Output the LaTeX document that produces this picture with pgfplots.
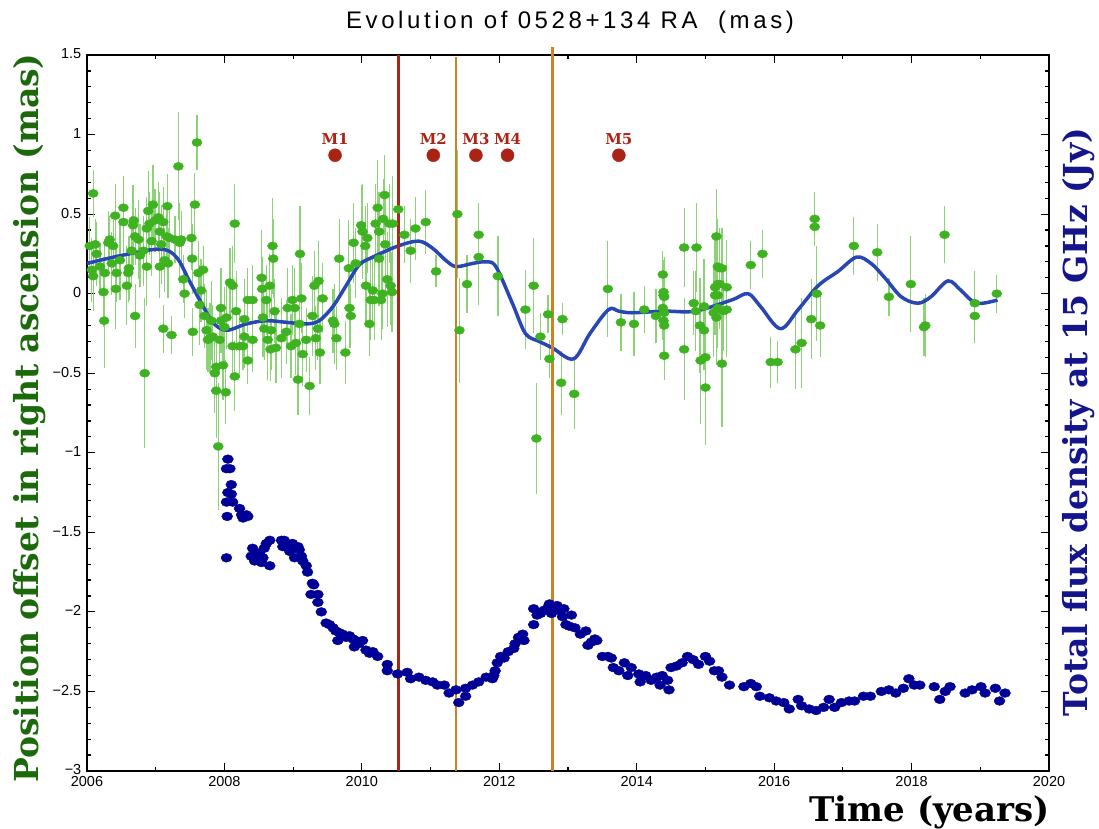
\documentclass[border=0pt]{standalone}
\usepackage{fontspec}
\usepackage{pgfplots}
\usepackage{pgfplotstable}
\pgfplotsset{compat=1.18}
\setmainfont{DejaVu Serif}
\newfontfamily\ticksf{Liberation Sans}
\newfontfamily\titlesf[LetterSpace=15]{Liberation Sans}

\definecolor{ptgreen}{RGB}{62,178,32}
\definecolor{errgreen}{RGB}{140,210,118}
\definecolor{labgreen}{RGB}{28,105,12}
\definecolor{fluxblue}{RGB}{0,0,150}
\definecolor{curveblue}{RGB}{40,70,180}
\definecolor{labnavy}{RGB}{20,20,140}
\definecolor{mred}{RGB}{170,35,20}
\definecolor{vred}{RGB}{165,40,25}
\definecolor{vorange}{RGB}{205,130,35}

\pgfplotstableread{
x y e
2006.04 0.30 0.18
2006.07 0.15 0.20
2006.09 0.63 0.15
2006.09 0.11 0.22
2006.12 0.31 0.16
2006.14 0.25 0.20
2006.19 0.17 0.15
2006.24 0.01 0.22
2006.25 -0.17 0.30
2006.26 0.13 0.18
2006.31 0.32 0.20
2006.33 0.34 0.15
2006.36 0.19 0.20
2006.38 0.30 0.16
2006.41 0.49 0.20
2006.42 0.03 0.25
2006.43 0.13 0.18
2006.48 0.21 0.25
2006.53 0.54 0.20
2006.53 0.45 0.22
2006.58 0.05 0.25
2006.60 0.13 0.18
2006.61 0.16 0.20
2006.65 0.27 0.22
2006.67 0.43 0.25
2006.68 0.46 0.20
2006.70 -0.14 0.20
2006.70 0.36 0.18
2006.75 0.34 0.25
2006.77 0.24 0.20
2006.82 0.27 0.22
2006.84 -0.50 0.47
2006.87 0.17 0.25
2006.87 0.41 0.20
2006.89 0.52 0.25
2006.91 0.44 0.20
2006.94 0.33 0.22
2006.96 0.56 0.25
2006.99 0.46 0.20
2007.04 0.48 0.22
2007.06 0.39 0.25
2007.06 0.17 0.20
2007.08 0.31 0.25
2007.11 0.45 0.22
2007.11 -0.22 0.15
2007.13 0.21 0.20
2007.16 0.36 0.18
2007.17 0.55 0.20
2007.18 0.19 0.22
2007.20 0.35 0.18
2007.23 -0.26 0.12
2007.28 0.34 0.15
2007.33 0.80 0.34
2007.35 0.32 0.25
2007.37 0.34 0.18
2007.40 0.09 0.15
2007.42 0.00 0.15
2007.52 0.35 0.20
2007.53 0.22 0.22
2007.54 -0.24 0.15
2007.57 0.56 0.20
2007.60 0.95 0.17
2007.62 0.13 0.20
2007.64 -0.07 0.25
2007.66 0.02 0.20
2007.69 0.15 0.15
2007.71 -0.14 0.20
2007.74 -0.23 0.25
2007.76 -0.29 0.20
2007.79 -0.28 0.22
2007.81 -0.17 0.25
2007.83 -0.27 0.20
2007.86 -0.50 0.25
2007.88 -0.61 0.30
2007.88 -0.46 0.20
2007.91 -0.96 0.40
2007.93 -0.29 0.20
2007.95 -0.09 0.25
2007.95 -0.17 0.20
2007.98 -0.45 0.22
2008.00 -0.21 0.25
2008.02 -0.62 0.20
2008.03 -0.15 0.20
2008.08 0.07 0.22
2008.12 0.05 0.25
2008.12 -0.33 0.20
2008.15 0.44 0.25
2008.15 -0.52 0.22
2008.17 -0.11 0.25
2008.22 -0.33 0.20
2008.27 -0.33 0.15
2008.29 -0.16 0.25
2008.29 -0.27 0.20
2008.34 -0.04 0.20
2008.34 -0.42 0.15
2008.41 -0.29 0.20
2008.41 -0.04 0.22
2008.54 0.10 0.30
2008.55 0.03 0.20
2008.56 -0.15 0.25
2008.58 -0.22 0.20
2008.61 -0.04 0.22
2008.63 -0.29 0.25
2008.66 0.05 0.20
2008.67 -0.35 0.20
2008.68 -0.23 0.25
2008.70 0.30 0.30
2008.71 0.22 0.25
2008.73 -0.11 0.20
2008.75 -0.34 0.22
2008.83 -0.28 0.25
2008.90 -0.24 0.20
2008.92 -0.09 0.25
2008.97 -0.33 0.20
2008.99 -0.04 0.22
2009.02 -0.09 0.25
2009.04 -0.31 0.20
2009.07 -0.54 0.22
2009.09 -0.19 0.20
2009.10 0.25 0.30
2009.12 -0.03 0.22
2009.14 -0.38 0.20
2009.19 -0.29 0.20
2009.24 -0.58 0.18
2009.28 -0.14 0.25
2009.31 0.05 0.22
2009.33 -0.28 0.20
2009.36 -0.22 0.20
2009.37 0.08 0.25
2009.39 -0.37 0.20
2009.43 -0.03 0.22
2009.58 -0.17 0.20
2009.60 -0.19 0.25
2009.63 -0.28 0.20
2009.67 0.22 0.25
2009.76 -0.37 0.20
2009.81 0.16 0.30
2009.82 -0.09 0.25
2009.84 -0.14 0.20
2009.88 0.32 0.25
2009.91 0.19 0.22
2009.99 0.43 0.25
2010.01 0.39 0.30
2010.05 0.30 0.25
2010.06 0.05 0.25
2010.08 0.35 0.22
2010.11 -0.19 0.20
2010.13 -0.04 0.25
2010.16 0.02 0.22
2010.18 -0.04 0.25
2010.20 0.44 0.25
2010.23 0.54 0.30
2010.25 0.39 0.25
2010.25 0.22 0.30
2010.28 -0.04 0.25
2010.30 0.00 0.22
2010.31 0.47 0.25
2010.33 0.62 0.25
2010.34 0.31 0.30
2010.37 0.09 0.30
2010.40 0.44 0.25
2010.42 0.05 0.25
2010.44 0.01 0.25
2010.45 0.44 0.30
2010.53 0.53 0.20
2010.62 0.37 0.18
2010.71 0.27 0.20
2010.78 0.41 0.20
2010.93 0.45 0.20
2011.08 0.14 0.10
2011.39 0.50 0.40
2011.42 -0.23 0.33
2011.53 0.06 0.18
2011.70 0.37 0.20
2011.70 0.23 0.30
2011.98 0.11 0.25
2012.38 -0.10 0.25
2012.50 0.05 0.30
2012.54 -0.91 0.35
2012.60 -0.27 0.15
2012.71 -0.13 0.12
2012.73 -0.41 0.12
2012.90 -0.56 0.20
2012.92 -0.16 0.10
2013.09 -0.63 0.22
2013.58 0.03 0.30
2013.77 -0.18 0.18
2013.96 -0.19 0.20
2014.11 -0.10 0.15
2014.28 -0.14 0.17
2014.38 0.12 0.15
2014.39 0.01 0.20
2014.39 -0.01 0.15
2014.40 -0.02 0.25
2014.38 -0.09 0.20
2014.40 -0.12 0.15
2014.39 -0.17 0.20
2014.40 -0.20 0.25
2014.40 -0.39 0.15
2014.69 0.29 0.25
2014.69 -0.35 0.32
2014.83 -0.06 0.20
2014.87 0.29 0.28
2014.86 -0.11 0.25
2014.92 -0.20 0.30
2014.98 -0.23 0.25
2014.93 -0.42 0.40
2015.00 -0.40 0.30
2015.00 -0.59 0.36
2014.98 -0.08 0.30
2015.16 0.36 0.30
2015.14 0.04 0.30
2015.18 0.17 0.30
2015.21 0.16 0.25
2015.24 0.16 0.25
2015.18 0.06 0.25
2015.21 0.06 0.28
2015.31 0.04 0.30
2015.14 -0.01 0.25
2015.18 -0.01 0.30
2015.12 -0.12 0.28
2015.16 -0.15 0.30
2015.18 -0.09 0.25
2015.26 -0.11 0.25
2015.31 -0.10 0.30
2015.24 -0.44 0.40
2015.66 0.18 0.15
2015.83 0.25 0.15
2015.95 -0.43 0.16
2016.05 -0.43 0.13
2016.31 -0.35 0.25
2016.40 -0.31 0.28
2016.54 -0.16 0.25
2016.59 0.47 0.17
2016.59 0.42 0.12
2016.62 0.00 0.30
2016.67 -0.20 0.20
2017.16 0.30 0.18
2017.50 0.26 0.18
2017.67 -0.02 0.12
2017.99 0.06 0.30
2018.18 -0.21 0.18
2018.20 -0.20 0.20
2018.48 0.37 0.18
2018.92 -0.06 0.20
2018.92 -0.14 0.17
2019.24 0.00 0.12
}\posdata

\pgfplotstableread{
x y
2008.05 -1.04
2008.03 -1.10
2008.08 -1.10
2008.10 -1.20
2008.05 -1.25
2008.10 -1.26
2008.03 -1.31
2008.12 -1.31
2008.04 -1.40
2008.22 -1.35
2008.25 -1.39
2008.32 -1.39
2008.27 -1.41
2008.34 -1.40
2008.03 -1.66
2008.39 -1.65
2008.41 -1.60
2008.46 -1.64
2008.44 -1.68
2008.51 -1.63
2008.56 -1.66
2008.58 -1.60
2008.61 -1.57
2008.66 -1.55
2008.66 -1.71
2008.54 -1.69
2008.83 -1.55
2008.85 -1.59
2008.87 -1.55
2008.92 -1.58
2008.95 -1.62
2008.99 -1.57
2009.02 -1.66
2009.07 -1.59
2009.09 -1.61
2009.12 -1.65
2009.14 -1.68
2009.19 -1.71
2009.21 -1.75
2009.28 -1.82
2009.30 -1.83
2009.26 -1.89
2009.36 -1.89
2009.36 -1.94
2009.41 -2.00
2009.48 -2.07
2009.53 -2.08
2009.58 -2.10
2009.62 -2.12
2009.67 -2.13
2009.65 -2.18
2009.72 -2.14
2009.77 -2.16
2009.82 -2.15
2009.87 -2.17
2009.89 -2.22
2009.91 -2.18
2009.96 -2.20
2010.01 -2.18
2010.06 -2.24
2010.11 -2.26
2010.16 -2.25
2010.23 -2.28
2010.37 -2.33
2010.37 -2.37
2010.52 -2.39
2010.66 -2.38
2010.71 -2.42
2010.83 -2.41
2010.93 -2.43
2011.03 -2.44
2011.10 -2.46
2011.20 -2.46
2011.27 -2.51
2011.37 -2.49
2011.41 -2.57
2011.51 -2.53
2011.51 -2.48
2011.61 -2.46
2011.70 -2.44
2011.81 -2.41
2011.90 -2.42
2011.92 -2.40
2011.94 -2.37
2011.97 -2.32
2012.02 -2.28
2012.07 -2.29
2012.13 -2.25
2012.21 -2.23
2012.23 -2.20
2012.28 -2.16
2012.36 -2.18
2012.34 -2.14
2012.50 -1.98
2012.50 -2.08
2012.55 -2.02
2012.60 -2.01
2012.65 -1.99
2012.71 -1.97
2012.73 -1.95
2012.76 -2.01
2012.84 -1.96
2012.86 -1.99
2012.92 -2.03
2012.94 -1.98
2012.97 -2.08
2013.02 -2.09
2013.05 -2.02
2013.10 -2.10
2013.18 -2.14
2013.26 -2.12
2013.29 -2.21
2013.34 -2.19
2013.39 -2.17
2013.42 -2.18
2013.50 -2.28
2013.58 -2.28
2013.63 -2.29
2013.66 -2.35
2013.74 -2.37
2013.82 -2.32
2013.87 -2.40
2013.92 -2.35
2014.03 -2.39
2014.05 -2.44
2014.13 -2.40
2014.21 -2.43
2014.29 -2.41
2014.34 -2.46
2014.37 -2.40
2014.45 -2.43
2014.47 -2.49
2014.50 -2.35
2014.58 -2.34
2014.66 -2.32
2014.74 -2.28
2014.82 -2.30
2014.90 -2.33
2015.00 -2.28
2015.06 -2.31
2015.13 -2.37
2015.19 -2.37
2015.24 -2.41
2015.35 -2.46
2015.56 -2.47
2015.66 -2.45
2015.74 -2.47
2015.79 -2.53
2015.93 -2.54
2016.03 -2.56
2016.14 -2.57
2016.22 -2.61
2016.35 -2.55
2016.40 -2.59
2016.51 -2.61
2016.61 -2.62
2016.72 -2.60
2016.80 -2.55
2016.88 -2.60
2016.98 -2.57
2017.09 -2.56
2017.17 -2.56
2017.30 -2.53
2017.40 -2.53
2017.56 -2.50
2017.67 -2.49
2017.77 -2.51
2017.88 -2.48
2017.96 -2.42
2018.04 -2.46
2018.12 -2.46
2018.33 -2.47
2018.41 -2.55
2018.49 -2.50
2018.56 -2.47
2018.78 -2.51
2018.88 -2.49
2019.01 -2.47
2019.07 -2.51
2019.22 -2.48
2019.28 -2.56
2019.36 -2.51
}\fluxdata

\pgfplotstableread{
x y label
2009.61 0.87 M1
2011.04 0.87 M2
2011.66 0.87 M3
2012.12 0.87 M4
2013.74 0.87 M5
}\mdata

\begin{document}
\begin{tikzpicture}
\begin{axis}[
  at={(0pt,0pt)}, anchor=south west,
  scale only axis, width=962pt, height=716pt,
  xmin=2006, xmax=2020, ymin=-3, ymax=1.5,
  clip=false,
  xtick={2006,2008,2010,2012,2014,2016,2018,2020},
  xticklabels={2006,2008,2010,2012,2014,2016,2018,2020},
  minor xtick={2007,2009,2011,2013,2015,2017,2019},
  ytick={-3,-2.5,-2,-1.5,-1,-0.5,0,0.5,1,1.5},
  yticklabels={−3,−2.5,−2,−1.5,−1,−0.5,0,0.5,1,1.5},
  minor y tick num=4,
  tick align=inside,
  major tick length=8pt, minor tick length=4.5pt,
  every tick/.style={black, line width=1.2pt},
  axis line style={line width=1.4pt},
  ticklabel style={font=\ticksf\fontsize{14.5}{14.5}\selectfont, inner sep=0.5pt},
  xticklabel style={yshift=-5pt},
  yticklabel style={xshift=-5pt, yshift=1pt},
]
% error bars of position offsets
\addplot[only marks, mark=none, errgreen, line width=1.2pt,
  error bars/.cd, y dir=both, y explicit,
  error bar style={errgreen, line width=1.2pt}, error mark=none]
  table[x=x, y=y, y error=e] {\posdata};
% position offsets
\addplot[only marks, mark=*, mark size=4.4pt,
  mark options={draw=ptgreen, fill=ptgreen, xscale=1.15, yscale=0.92}]
  table[x=x, y=y] {\posdata};
% flux density
\addplot[only marks, mark=*, mark size=4.9pt,
  mark options={draw=fluxblue, fill=fluxblue, xscale=1.12, yscale=0.9}]
  table[x=x, y=y] {\fluxdata};
% smooth curve
\addplot[curveblue, line width=3.5pt, smooth, tension=0.55] coordinates {
(2006.00,0.19) (2006.50,0.24) (2007.06,0.28) (2007.30,0.23) (2007.49,0.08)
(2007.64,-0.04) (2007.83,-0.18) (2008.03,-0.23) (2008.32,-0.19) (2008.61,-0.17)
(2008.90,-0.18) (2009.19,-0.19) (2009.38,-0.17) (2009.58,-0.08) (2009.77,0.05)
(2009.96,0.18) (2010.16,0.23) (2010.53,0.30) (2010.83,0.33) (2011.03,0.285)
(2011.22,0.21) (2011.37,0.17) (2011.61,0.19) (2011.80,0.20) (2011.95,0.17)
(2012.19,-0.06) (2012.38,-0.25) (2012.58,-0.30) (2012.77,-0.34) (2013.08,-0.41)
(2013.32,-0.25) (2013.59,-0.10) (2013.74,-0.11) (2013.93,-0.12) (2014.41,-0.11)
(2014.85,-0.11) (2015.38,-0.04) (2015.62,0.00) (2015.80,-0.08) (2016.09,-0.22)
(2016.35,-0.10) (2016.64,0.05) (2016.93,0.14) (2017.20,0.23) (2017.41,0.19)
(2017.61,0.10) (2017.85,-0.02) (2018.09,-0.06) (2018.28,-0.02) (2018.53,0.08)
(2018.72,0.02) (2018.94,-0.06) (2019.25,-0.04)
};
% vertical lines
\addplot[vred, line width=2.7pt] coordinates {(2010.53,-3) (2010.53,1.5)};
\addplot[vorange, line width=2.8pt] coordinates {(2011.37,-3) (2011.37,1.49)};
\addplot[vorange, line width=2.8pt] coordinates {(2012.78,-3) (2012.78,1.55)};
% markers M1..M5
\addplot[only marks, mark=*, mark size=6.5pt,
  mark options={draw=mred, fill=mred},
  nodes near coords, point meta=explicit symbolic,
  every node near coord/.append style={font=\bfseries\fontsize{15}{15}\selectfont,
    text=mred, anchor=base, yshift=11pt, inner sep=0pt}]
  table[x=x, y=y, meta=label] {\mdata};
\end{axis}
\node[rotate=90, text=labgreen, font=\bfseries\fontsize{33}{33}\selectfont] at (-57pt,353pt) {Position offset in right ascension (mas)};
\node[rotate=90, text=labnavy, font=\bfseries\fontsize{33}{33}\selectfont] at (992pt,349pt) {Total flux density at 15 GHz (Jy)};
\node[anchor=east, inner sep=0pt, font=\bfseries\fontsize{34}{34}\selectfont] at (963pt,-41pt) {Time (years)};
\node[font=\titlesf\fontsize{24}{24}\selectfont] at (483pt,749pt) {Evolution of 0528+134 RA~~(mas)};
\pgfresetboundingbox
\path[use as bounding box] (-87pt,-57pt) rectangle (1012pt,771pt);
\end{tikzpicture}
\end{document}
